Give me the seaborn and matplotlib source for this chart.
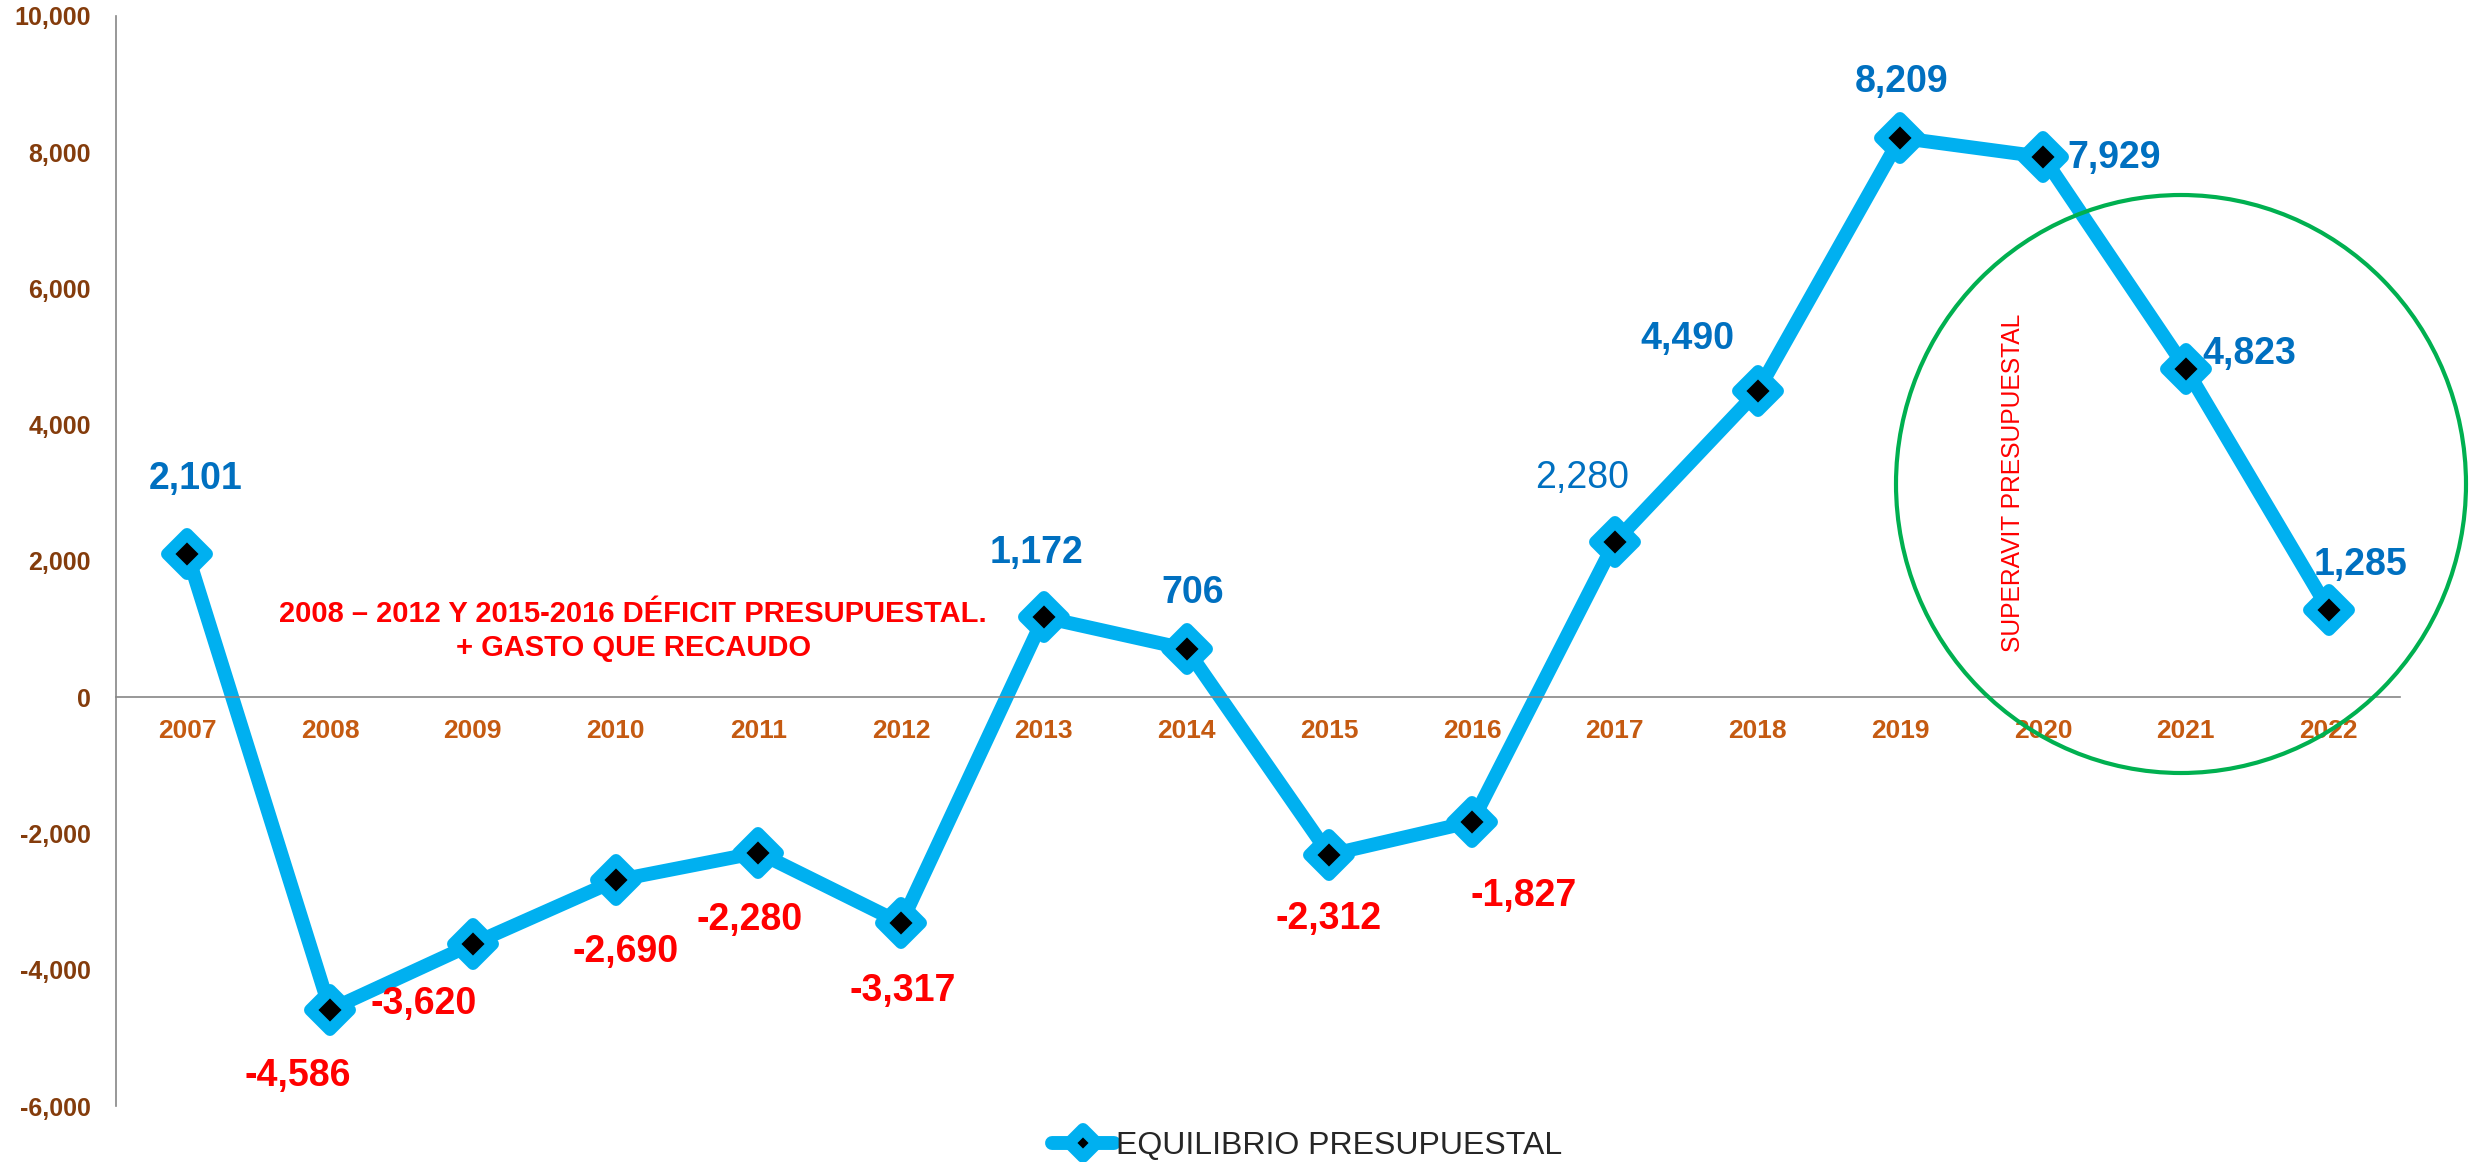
import pandas as pd
import seaborn as sns
import matplotlib.pyplot as plt
from matplotlib.markers import MarkerStyle
from matplotlib.patches import Ellipse
from matplotlib.ticker import FuncFormatter, FixedLocator

# datos del equilibrio presupuestal (millones)
years = ["2007", "2008", "2009", "2010", "2011", "2012", "2013", "2014",
         "2015", "2016", "2017", "2018", "2019", "2020", "2021", "2022"]
equilibrio = [2101, -4586, -3620, -2690, -2280, -3317, 1172, 706,
              -2312, -1827, 2280, 4490, 8209, 7929, 4823, 1285]
y_ticks = [-6000, -4000, -2000, 0, 2000, 4000, 6000, 8000, 10000]

# posicion de las etiquetas respecto al punto (pixeles)
label_offsets = [(8, 75), (-32, -66), (-49, -60), (10, -72), (-9, -67), (2, -68),
                 (-7, 64), (6, 56), (-1, -64), (52, -74), (-33, 64), (-70, 52),
                 (1, 56), (71, -1), (63, 15), (32, 45)]

LINE_BLUE = "#00B0F0"
LABEL_BLUE = "#0070C0"
RED = "#FF0000"
GRAY = "#868686"

sns.set_style("white")
plt.rcParams["font.family"] = ["Liberation Sans", "DejaVu Sans"]

df = pd.DataFrame({"anio": years, "equilibrio": equilibrio})

fig = plt.figure(figsize=(24.71, 11.62), dpi=100)
ax = fig.add_axes([0.04694, 0.04819, 0.92432, 0.93821])

marker = MarkerStyle("D", joinstyle="round")
sns.lineplot(data=df, x="anio", y="equilibrio", ax=ax, sort=False,
             color=LINE_BLUE, linewidth=10, marker=marker, markersize=20,
             markerfacecolor="black", markeredgecolor=LINE_BLUE,
             markeredgewidth=8.6, solid_joinstyle="round",
             solid_capstyle="round", label="EQUILIBRIO PRESUPUESTAL",
             legend=False)

# etiquetas de datos
for i, (yr, val) in enumerate(zip(years, equilibrio)):
    color = LABEL_BLUE if val >= 0 else RED
    weight = "normal" if yr == "2017" else "bold"
    dx, dy = label_offsets[i]
    ax.annotate(f"{val:,}", xy=(i, val), xytext=(dx, dy),
                textcoords="offset pixels", ha="center", va="center",
                fontsize=27, fontweight=weight, color=color)

# ejes
ax.set_xlim(-0.5, len(years) - 0.5)
ax.set_ylim(-6000, 10000)
ax.set_yticks(y_ticks)
ax.yaxis.set_major_formatter(FuncFormatter(lambda v, p: f"{v:,.0f}"))
ax.set_xlabel("")
ax.set_ylabel("")

ax.spines["top"].set_visible(False)
ax.spines["right"].set_visible(False)
ax.spines["bottom"].set_position(("data", 0))
for s in ("left", "bottom"):
    ax.spines[s].set_color(GRAY)
    ax.spines[s].set_linewidth(1.2)

ax.xaxis.set_minor_locator(FixedLocator([i - 0.5 for i in range(len(years) + 1)]))
ax.tick_params(axis="x", which="major", length=0, pad=16, labelsize=19,
               labelcolor="#C55A11")
ax.tick_params(axis="x", which="minor", length=6, width=1.2, color=GRAY,
               direction="out")
ax.tick_params(axis="y", length=6, width=1.2, color=GRAY, pad=12,
               labelsize=18, labelcolor="#843C0C")
for lab in ax.get_xticklabels() + ax.get_yticklabels():
    lab.set_fontweight("bold")

# anotaciones
fig.text(0.2562, 0.457,
         "2008 \u2013 2012 Y 2015-2016 DÉFICIT PRESUPUESTAL.\n+ GASTO QUE RECAUDO",
         ha="center", va="center", color=RED, fontsize=21, fontweight="bold",
         linespacing=1.25)
fig.text(0.8146, 0.5843, "SUPERAVIT PRESUPUESTAL", rotation=90,
         ha="center", va="center", color=RED, fontsize=17.7)

circle = Ellipse((2181 / 2471, 1 - 484 / 1162), width=570 / 2471,
                 height=578 / 1162, transform=fig.transFigure, fill=False,
                 edgecolor="#00B050", linewidth=3)
fig.add_artist(circle)

fig.legend(loc="center", bbox_to_anchor=(0.529, 0.014), frameon=False,
           fontsize=23, handlelength=1.95, handletextpad=0.05, markerscale=0.7)

fig.savefig("out.png", dpi=100)
plt.close(fig)
